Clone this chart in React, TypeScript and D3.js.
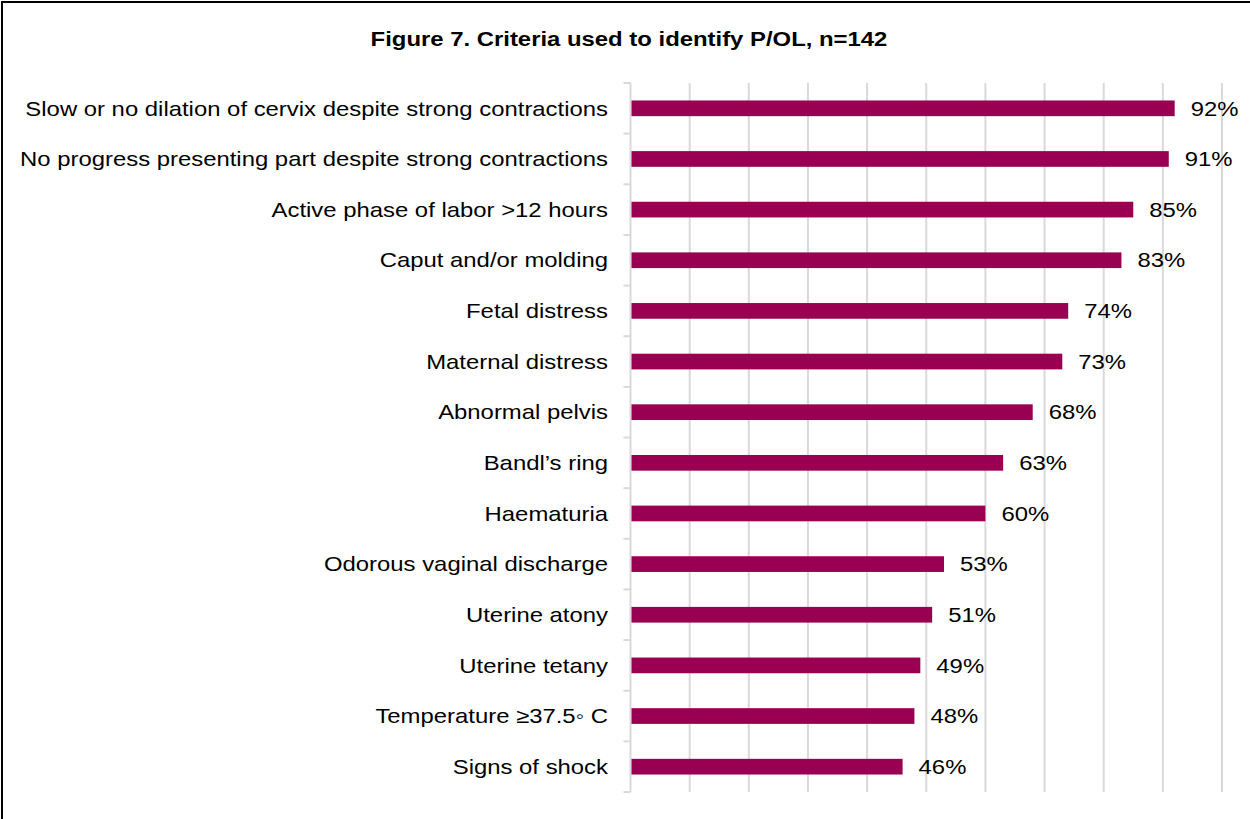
import React from "react";
import * as d3 from "d3";

const categories = [
  "Slow or no dilation of cervix despite strong contractions",
  "No progress presenting part despite strong contractions",
  "Active phase of labor >12 hours",
  "Caput and/or molding",
  "Fetal distress",
  "Maternal distress",
  "Abnormal pelvis",
  "Bandl\u2019s ring",
  "Haematuria",
  "Odorous vaginal discharge",
  "Uterine atony",
  "Uterine tetany",
  "Temperature \u226537.5\u25e6 C",
  "Signs of shock",
];
const values = [92, 91, 85, 83, 74, 73, 68, 63, 60, 53, 51, 49, 48, 46];
const xTicks = [0, 10, 20, 30, 40, 50, 60, 70, 80, 90, 100];
const title = "Figure 7. Criteria used to identify P/OL, n=142";

export default function App() {
  const W = 1250, H = 819;
  const x0 = 630.5, x1 = 1222, y0 = 83, y1 = 792;
  const x = d3.scaleLinear().domain([0, 100]).range([x0, x1]);
  const y = d3.scaleBand().domain(categories).range([y0, y1]).paddingInner(0.69).paddingOuter(0.345);
  const band = (y1 - y0) / categories.length;
  const font = "'Liberation Sans', Arial, sans-serif";
  const grid = "#d9d9d9";
  const sx = 1.165;
  const fs = 20.5;
  return (
    <svg width={W} height={H} style={{ position: "absolute", left: 0, top: 0, background: "#fff" }}>
      <rect x={2} y={2} width={W + 10} height={H + 10} fill="#fff" stroke="#000" strokeWidth={2} />
      <text transform={`translate(629,46) scale(${sx},1)`} textAnchor="middle" fontFamily={font} fontWeight="bold" fontSize={fs} fill="#000">
        {title}
      </text>
      {xTicks.slice(1).map((t) => (
        <line key={t} x1={x(t)} x2={x(t)} y1={y0} y2={y1} stroke={grid} strokeWidth={2} />
      ))}
      <line x1={x0} x2={x0} y1={y0} y2={y1} stroke={grid} strokeWidth={2} />
      {d3.range(categories.length + 1).map((i) => (
        <line key={i} x1={x0 - 7} x2={x0} y1={y0 + i * band} y2={y0 + i * band} stroke={grid} strokeWidth={2} />
      ))}
      {categories.map((c, i) => {
        const yy = y(c)!;
        const cy = yy + y.bandwidth() / 2;
        return (
          <g key={c}>
            <rect x={x(0) + 1} y={yy} width={x(values[i]) - x(0) - 1} height={y.bandwidth()} fill="#990052" />
            <text transform={`translate(608,${cy}) scale(${sx},1)`} dy="0.35em" textAnchor="end" fontFamily={font} fontSize={fs} fill="#000">
              {c}
            </text>
            <text transform={`translate(${x(values[i]) + 16},${cy}) scale(${sx},1)`} dy="0.35em" fontFamily={font} fontSize={fs} fill="#000">
              {values[i] + "%"}
            </text>
          </g>
        );
      })}
    </svg>
  );
}
